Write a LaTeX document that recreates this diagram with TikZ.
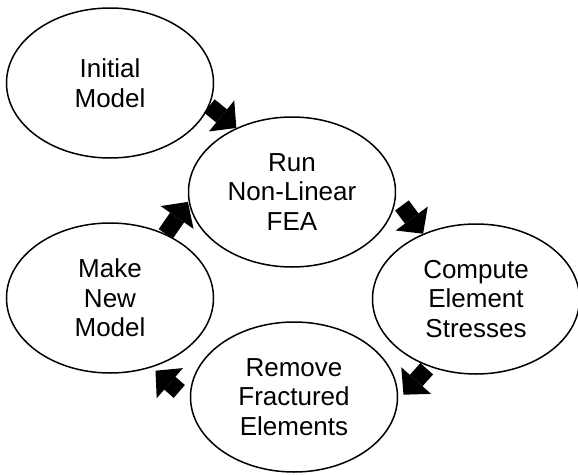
\documentclass[tikz,border=0pt]{standalone}
\usepackage{fontspec}
\setmainfont{Liberation Sans}
\usetikzlibrary{shapes.geometric,arrows.meta}
\tikzset{
  step-oval/.style={
    ellipse,
    draw=black,
    line width=1.5pt,
    minimum width=207pt,
    minimum height=150pt,
    inner sep=0pt,
    align=center,
    font=\fontsize{26}{29.5}\selectfont
  },
  flow-arrow/.style={
    line width=17pt,
    draw=black,
    -{Triangle[width=40pt 0 0,length=19pt 0 0,line width=0pt 0 0]}
  }
}

\begin{document}
\begin{tikzpicture}[x=1pt,y=-1pt]
  \useasboundingbox (0,0) rectangle (578,474);
  % Process steps
  \node[step-oval] (init) at (110,83) {Initial\\Model};
  \node[step-oval] (run) at (292,192) {Run\\Non-Linear\\FEA};
  \node[step-oval] (comp) at (476,299) {Compute\\Element\\Stresses};
  \node[step-oval] (rem) at (294,397) {Remove\\Fractured\\Elements};
  \node[step-oval] (make) at (110,298) {Make\\New\\Model};
  % Block arrows round the loop
  \draw[flow-arrow] (init.-13) -- (run.131);
  \draw[flow-arrow, shorten <=10pt] (run.-3) -- (comp.129);
  \draw[flow-arrow, shorten <=3pt, shorten >=8pt] (comp.235) -- (rem.-2);
  \draw[flow-arrow, shorten <=14pt, shorten >=5pt] (rem.182) -- (make.-59);
  \draw[flow-arrow, shorten >=1pt] (make.49) -- (run.185);
\end{tikzpicture}
\end{document}
